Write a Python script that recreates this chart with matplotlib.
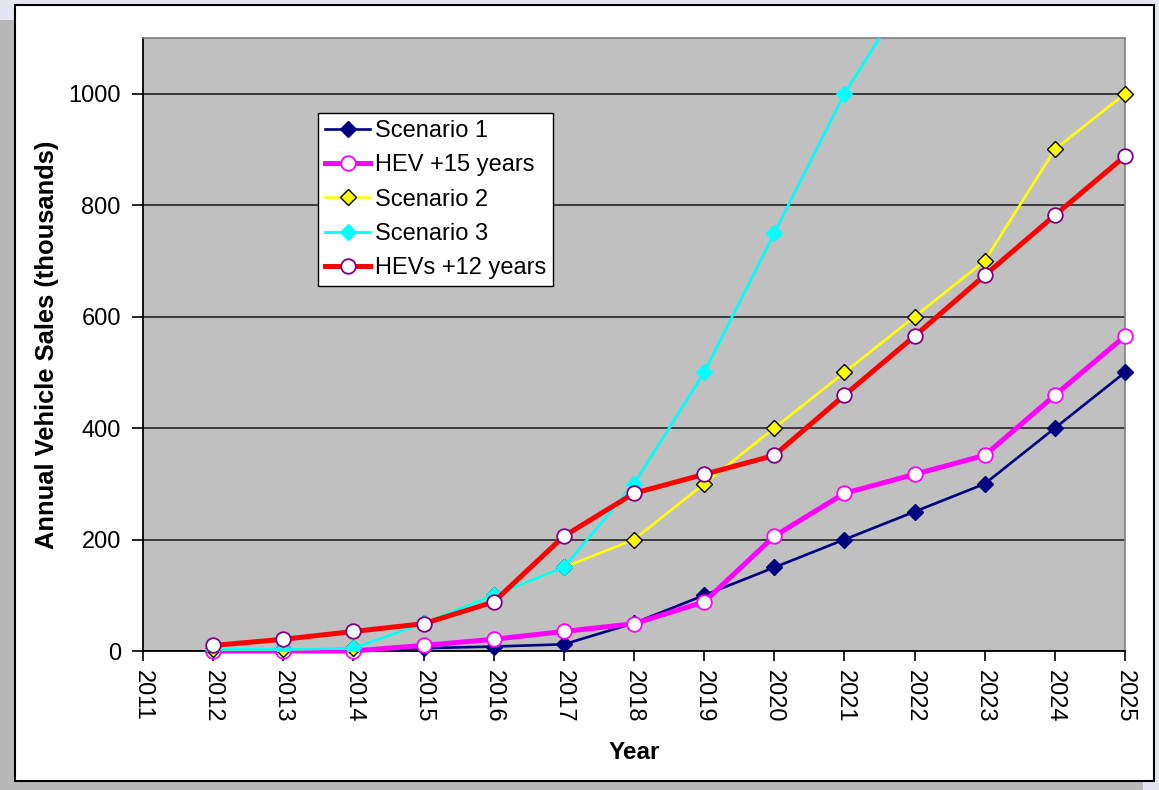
import matplotlib
matplotlib.use("Agg")
import matplotlib.pyplot as plt
from matplotlib.patches import Rectangle

plt.rcParams["font.family"] = ["Liberation Sans", "DejaVu Sans"]

years = list(range(2012, 2026))

scenario1 = [0, 0, 0, 5, 8, 12, 50, 100, 150, 200, 250, 300, 400, 500]
hev_15 = [0, 0, 0, 10, 21, 35, 49, 88, 206, 283, 317, 351, 459, 565]
scenario2 = [3, 3, 5, 50, 100, 150, 200, 300, 400, 500, 600, 700, 900, 1000]
scenario3_years = list(range(2012, 2023))
scenario3 = [3, 3, 5, 50, 100, 150, 300, 500, 750, 1000, 1200]
hev_12 = [10, 21, 35, 49, 88, 206, 283, 317, 351, 459, 565, 674, 782, 888]

W, H = 1159, 790
fig = plt.figure(figsize=(W / 100, H / 100), dpi=100)
fig.patch.set_facecolor("#e6e6f2")

# window frame: gray backdrop and white chart panel (kept under the axes)
fig.patches.append(Rectangle((0, 0), 1143 / W, 1 - 20 / H, transform=fig.transFigure,
                             facecolor="#b8b8b8", edgecolor="none", zorder=-2))
fig.patches.append(Rectangle((15 / W, 1 - 781 / H), (1154 - 15) / W, (781 - 5) / H,
                             transform=fig.transFigure, facecolor="white",
                             edgecolor="black", linewidth=1.5, zorder=-1))

ax = fig.add_axes([143 / W, 1 - 651 / H, (1125 - 143) / W, (651 - 38) / H])
ax.set_facecolor("#c0c0c0")

ax.plot(years, scenario1, color="#000080", lw=1.9, marker="D", ms=8,
        mfc="#000080", mec="#000080", label="Scenario 1", clip_on=False, zorder=3)
ax.plot(years, hev_15, color="#ff00ff", lw=3.6, marker="o", ms=10.5,
        mfc="white", mec="#ff00ff", mew=1.3, label="HEV +15 years", clip_on=False, zorder=4)
ax.plot(years, scenario2, color="#ffff00", lw=1.9, marker="D", ms=8,
        mfc="#ffff00", mec="black", mew=1.0, label="Scenario 2", clip_on=False, zorder=5)
ax.plot(scenario3_years, scenario3, color="#00ffff", lw=2.0, marker="D", ms=8,
        mfc="#00ffff", mec="#00ffff", label="Scenario 3", zorder=6)
ax.plot(years, hev_12, color="#ff0000", lw=3.6, marker="o", ms=10.5,
        mfc="white", mec="#800080", mew=1.3, label="HEVs +12 years", clip_on=False, zorder=7)

ax.set_xlim(2011, 2025)
ax.set_ylim(0, 1100)
ax.set_xticks(range(2011, 2026))
ax.set_yticks(range(0, 1001, 200))
ax.tick_params(axis="x", labelrotation=-90, length=7, width=1.2, pad=7, labelsize=17)
ax.tick_params(axis="y", length=8, width=1.2, pad=8, labelsize=17)
ax.grid(axis="y", color="#303030", linewidth=1.3)
ax.set_axisbelow(True)

for side in ("top", "right"):
    ax.spines[side].set_color("#808080")
    ax.spines[side].set_linewidth(1.2)
for side in ("left", "bottom"):
    ax.spines[side].set_color("black")
    ax.spines[side].set_linewidth(1.3)

ax.set_xlabel("Year", fontsize=17.5, fontweight="bold", labelpad=13)
ax.set_ylabel("Annual Vehicle Sales (thousands)", fontsize=18.4, fontweight="bold", labelpad=7)

leg = ax.legend(loc="upper left", bbox_to_anchor=(318 / W, 1 - 113 / H),
                bbox_transform=fig.transFigure, borderaxespad=0, fontsize=17,
                numpoints=1, handlelength=1.9, handletextpad=0.2, labelspacing=0.52,
                borderpad=0.3, fancybox=False, framealpha=1, edgecolor="black")
leg.get_frame().set_linewidth(1.0)

fig.savefig("out.png", dpi=100, facecolor=fig.get_facecolor())
